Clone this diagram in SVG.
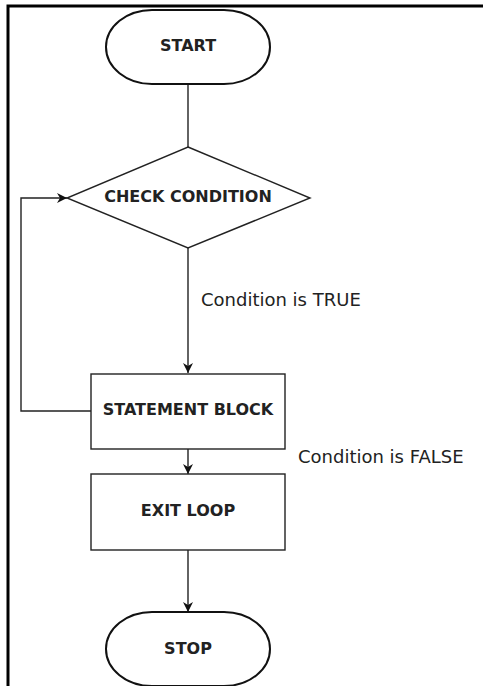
<svg xmlns="http://www.w3.org/2000/svg" width="483" height="686" viewBox="0 0 483 686">
<defs>
<style>
.node{fill:#fff;stroke:#222;stroke-width:1.4}
.term{fill:#fff;stroke:#111;stroke-width:2}
.lbl{font-family:"DejaVu Sans","Liberation Sans",sans-serif;font-size:16px;font-weight:bold;fill:#222;text-anchor:middle}
.edge{fill:none;stroke:#222;stroke-width:1.4}
.note{font-family:"DejaVu Sans","Liberation Sans",sans-serif;font-size:18px;fill:#222}
</style>
<marker id="arr" viewBox="0 0 10 10" refX="10" refY="5" markerWidth="10" markerHeight="10" markerUnits="userSpaceOnUse" orient="auto">
<path d="M0,0 L10,5 L0,10 L3,5 Z" fill="#111"/>
</marker>
</defs>
<rect width="483" height="686" fill="#fff"/>
<g id="frame">
<path d="M8,686 L8,6 L483,6" fill="none" stroke="#000" stroke-width="3"/>
</g>
<g id="connectors">
<line class="edge" x1="188" y1="84" x2="188" y2="147"/>
<line class="edge" x1="188" y1="248" x2="188" y2="373" marker-end="url(#arr)"/>
<path class="edge" d="M91,411 L21,411 L21,198 L67,198" marker-end="url(#arr)"/>
<line class="edge" x1="188" y1="449" x2="188" y2="474" marker-end="url(#arr)"/>
<line class="edge" x1="188" y1="550" x2="188" y2="612" marker-end="url(#arr)"/>
<text class="note" x="201" y="306">Condition is TRUE</text>
<text class="note" x="298" y="463">Condition is FALSE</text>
</g>
<g id="start">
<rect class="term" x="106" y="10" width="164" height="74" rx="46" ry="37"/>
<text class="lbl" x="188" y="51">START</text>
</g>
<g id="check">
<polygon class="node" points="188,147 310,198 188,248 67,198"/>
<text class="lbl" x="188" y="202">CHECK CONDITION</text>
</g>
<g id="statement">
<rect class="node" x="91" y="374" width="194" height="75"/>
<text class="lbl" x="188" y="415">STATEMENT BLOCK</text>
</g>
<g id="exit">
<rect class="node" x="91" y="474" width="194" height="76"/>
<text class="lbl" x="188" y="516">EXIT LOOP</text>
</g>
<g id="stop">
<rect class="term" x="106" y="612" width="164" height="74" rx="46" ry="37"/>
<text class="lbl" x="188" y="654">STOP</text>
</g>
</svg>
